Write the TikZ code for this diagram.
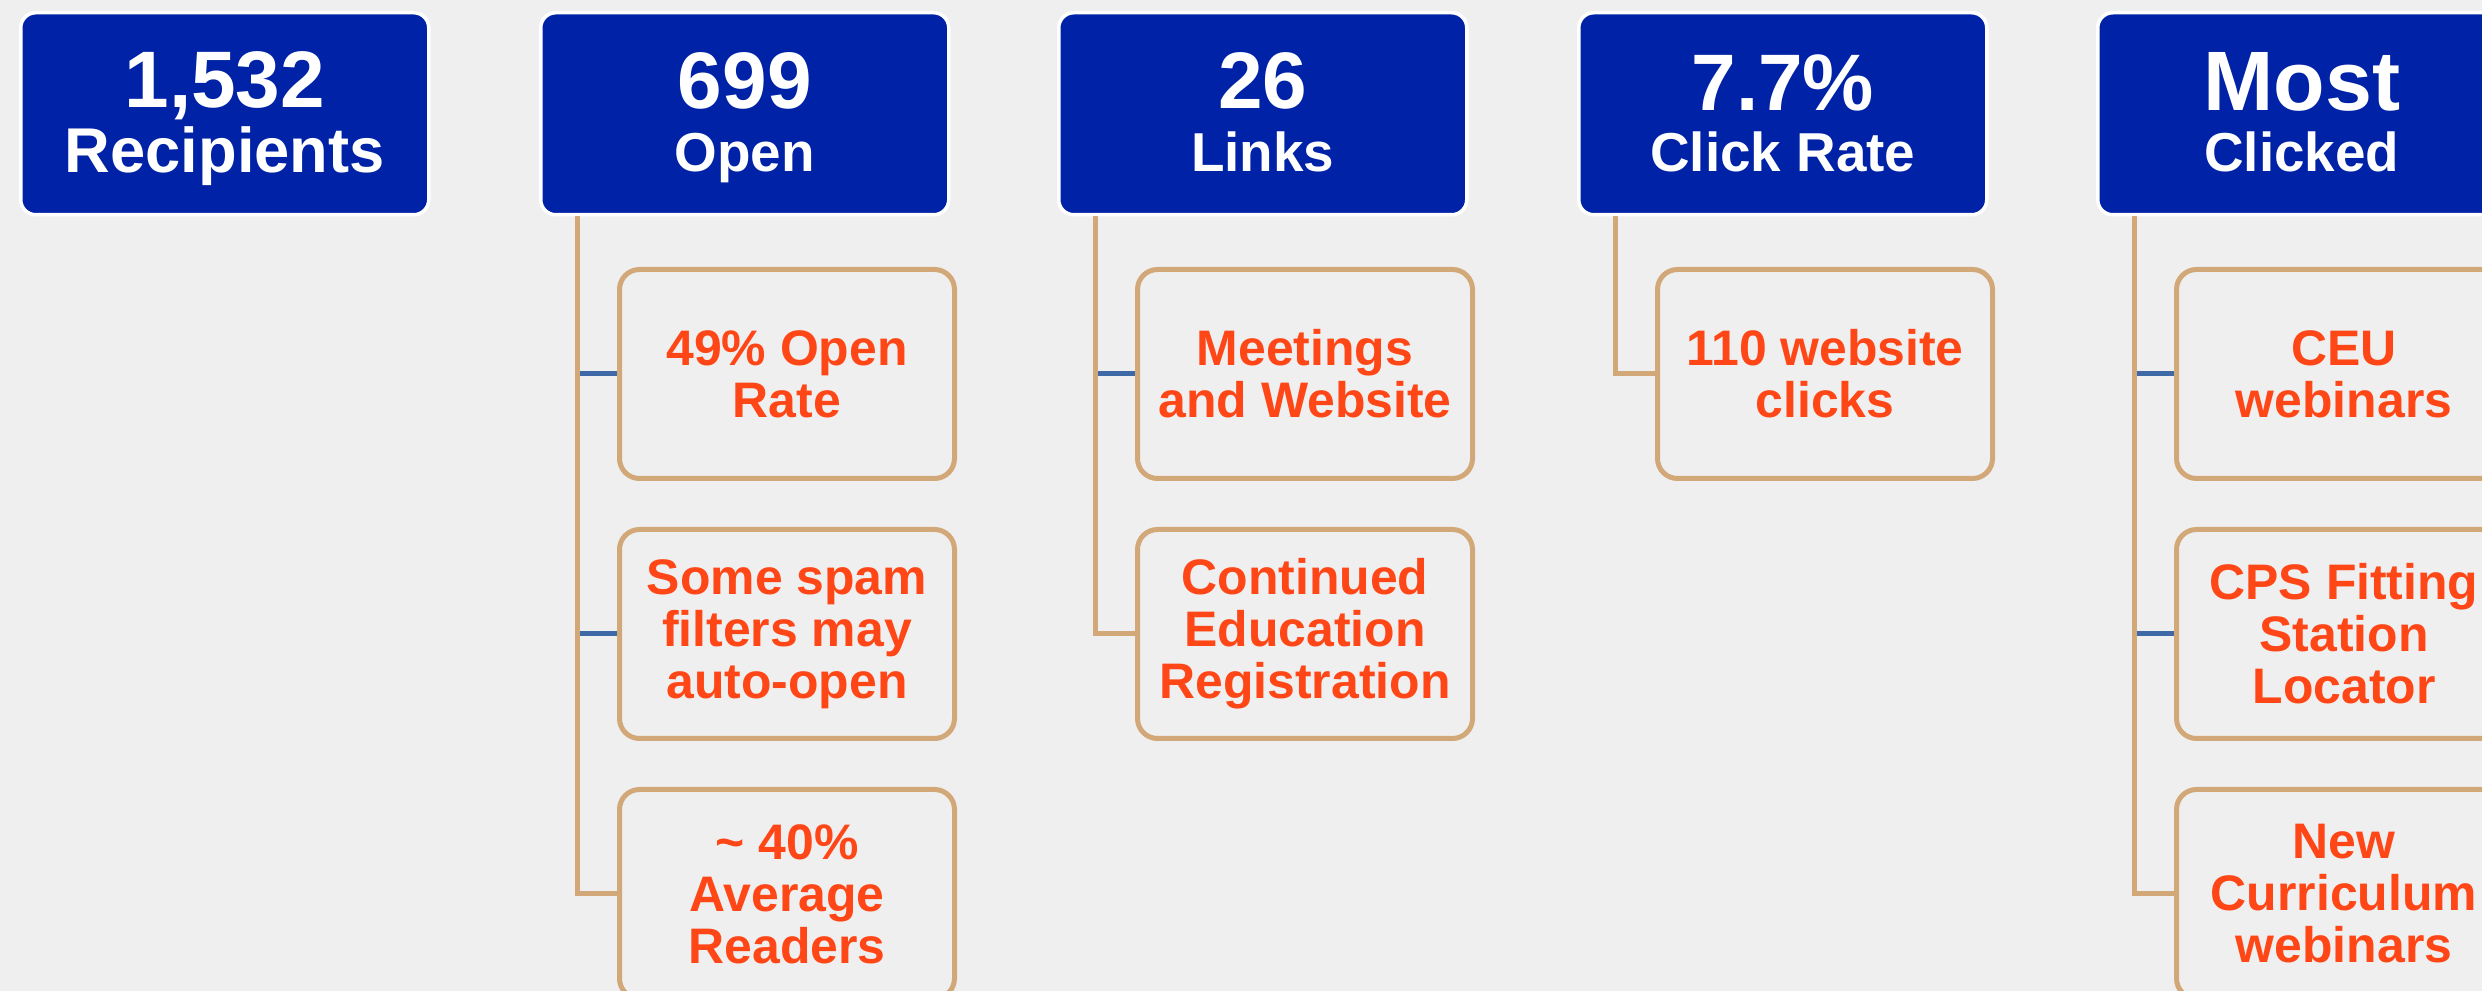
\documentclass[tikz,border=0pt]{standalone}
\usepackage{fontspec}
\setmainfont{Liberation Sans}
\usetikzlibrary{calc}
\definecolor{boxblue}{HTML}{0022A6}
\definecolor{tanc}{HTML}{D2A878}
\definecolor{stub}{HTML}{3F69A6}
\definecolor{orng}{HTML}{FF4616}
\definecolor{paper}{HTML}{EFEFEF}
\tikzset{
  topbox/.style={draw=white, line width=0.035cm, fill=boxblue, rounded corners=0.15cm,
    minimum width=4.08cm, minimum height=2.02cm, inner sep=0pt, anchor=north west},
  childbox/.style={draw=tanc, line width=0.05cm, rounded corners=0.2cm,
    minimum width=3.35cm, minimum height=2.09cm, anchor=north west, inner sep=0pt,
    align=center, text=orng, font=\bfseries\fontsize{14.2}{14.8}\selectfont},
  bignum/.style={anchor=base, text=white, inner sep=0pt, font=\bfseries\fontsize{22.8}{22.8}\selectfont},
  sublab/.style={anchor=base, text=white, inner sep=0pt, font=\bfseries\fontsize{15.6}{15.6}\selectfont},
  tanline/.style={draw=tanc, line width=0.05cm},
  blueline/.style={draw=stub, line width=0.05cm},
}
\begin{document}
\begin{tikzpicture}
\fill[paper] (0,0) rectangle (24.82,-9.91);
\useasboundingbox (0,0) rectangle (24.82,-9.91);

% top boxes
\node[topbox] (p1) at (0.19,-0.11) {};
\node[topbox] (p2) at (5.39,-0.11) {};
\node[topbox] (p3) at (10.57,-0.11) {};
\node[topbox] (p4) at (15.77,-0.11) {};
\node[topbox] (p5) at (20.96,-0.11) {};

\node[bignum] (t1) at ($(p1.north)+(0,-0.97)$) {1,532};
\node[sublab, font=\bfseries\fontsize{18}{18}\selectfont] (s1) at ($(p1.north)+(0,-1.62)$) {Recipients};
\node[bignum] (t2) at ($(p2.north)+(0,-0.98)$) {699};
\node[sublab] (s2) at ($(p2.north)+(0,-1.61)$) {Open};
\node[bignum] (t3) at ($(p3.north)+(0,-0.98)$) {26};
\node[sublab] (s3) at ($(p3.north)+(0,-1.61)$) {Links};
\node[bignum] (t4) at ($(p4.north)+(0,-1.00)$) {7.7\%};
\node[sublab] (s4) at ($(p4.north)+(0,-1.61)$) {Click Rate};
\node[bignum, font=\bfseries\fontsize{24}{24}\selectfont] (t5) at ($(p5.north)+(0,-1.00)$) {Most};
\node[sublab] (s5) at ($(p5.north)+(0,-1.61)$) {Clicked};

% children
\node[childbox] (c21) at (6.17,-2.67) {49\% Open\\Rate};
\node[childbox] (c22) at (6.17,-5.27) {Some spam\\filters may\\auto-open};
\node[childbox] (c23) at (6.17,-7.87) {\textasciitilde{} 40\%\\Average\\Readers};

\node[childbox] (c31) at (11.35,-2.67) {Meetings\\and Website};
\node[childbox] (c32) at (11.35,-5.27) {Continued\\Education\\Registration};

\node[childbox] (c41) at (16.55,-2.67) {110 website\\clicks};

\node[childbox] (c51) at (21.74,-2.67) {CEU\\webinars};
\node[childbox] (c52) at (21.74,-5.27) {CPS Fitting\\Station\\Locator};
\node[childbox] (c53) at (21.74,-7.87) {New\\Curriculum\\webinars};

% trunk coordinates
\coordinate (v2) at ($(p2.south west)+(0.38,0)$);
\coordinate (v3) at ($(p3.south west)+(0.38,0)$);
\coordinate (v4) at ($(p4.south west)+(0.38,0)$);
\coordinate (v5) at ($(p5.south west)+(0.38,0)$);

% blue stubs
\draw[blueline] (v2 |- c21.west) -- (c21.west);
\draw[blueline] (v2 |- c22.west) -- (c22.west);
\draw[blueline] (v3 |- c31.west) -- (c31.west);
\draw[blueline] (v5 |- c51.west) -- (c51.west);
\draw[blueline] (v5 |- c52.west) -- (c52.west);

% tan elbows
\draw[tanline] (v2) |- (c23.west);
\draw[tanline] (v3) |- (c32.west);
\draw[tanline] (v4) |- (c41.west);
\draw[tanline] (v5) |- (c53.west);
\end{tikzpicture}
\end{document}
